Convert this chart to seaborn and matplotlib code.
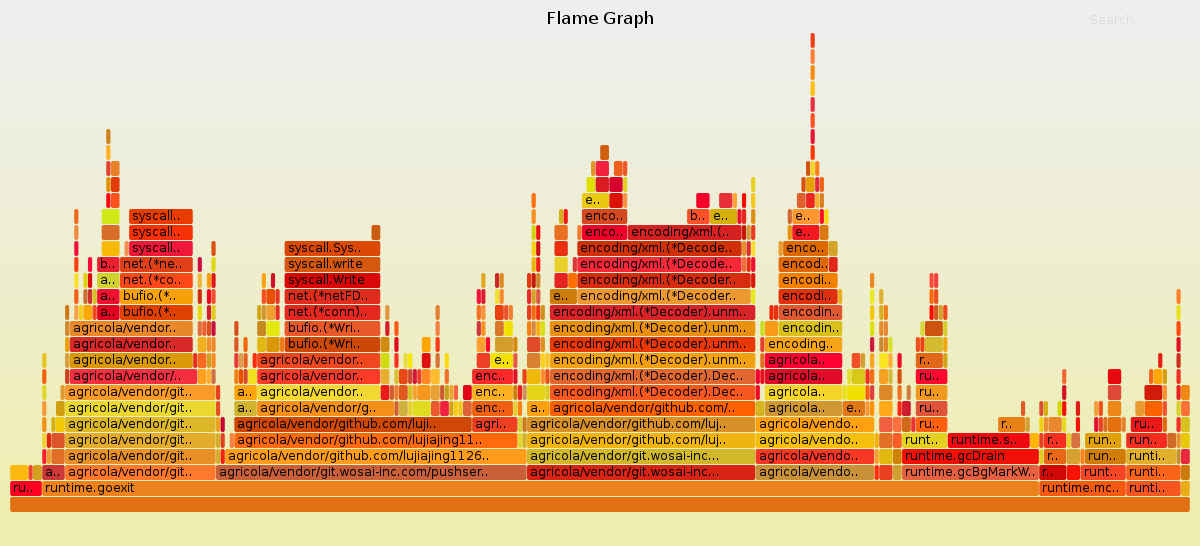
import numpy as np
import pandas as pd
import matplotlib
matplotlib.use("Agg")
import matplotlib.pyplot as plt
from matplotlib.patches import FancyBboxPatch
import seaborn as sns

AG = "agricola/vendor/git.."

r00_start = [10]
r00_end = [1190]
r00_color = ["#e07012"]
r00_label = {}

r01_start = [10, 42, 1040, 1126, 1181]
r01_end = [42, 1039, 1126, 1181, 1190]
r01_color = ["#ff0020", "#ec821c", "#f55a10", "#f75620", "#e8ac18"]
r01_label = {0: "ru..", 1: "runtime.goexit", 2: "runtime.mc..", 3: "runti.."}

r02_start = [10, 29, 33, 42, 65, 216, 527, 755, 875, 879, 892, 902, 1039, 1066, 1081, 1126, 1181]
r02_end = [28, 33, 42, 65, 216, 527, 755, 875, 879, 892, 902, 1039, 1066, 1080, 1126, 1181, 1190]
r02_color = ["#fbb80f", "#f0442c", "#d4a020", "#cc3838", "#ff782c", "#c9603a", "#d82414", "#c89038", "#ff2d10",
             "#e84020", "#cda030", "#e56040", "#d00808", "#f81208", "#f54525", "#fa6418", "#cc7a0c"]
r02_label = {3: "a..", 4: AG, 5: "agricola/vendor/git.wosai-inc.com/pushser..", 6: "agricola/vendor/git.wosai-inc...",
             7: "agricola/vendo..", 11: "runtime.gcBgMarkW..", 12: "r..", 14: "runt..", 15: "runti.."}

r03_start = [42, 47, 52, 65, 216, 221, 225, 527, 755, 875, 879, 893, 902, 1039, 1044, 1066, 1081, 1085, 1126, 1177, 1181]
r03_end = [46, 51, 65, 216, 220, 225, 527, 755, 875, 879, 893, 902, 1039, 1043, 1066, 1080, 1084, 1126, 1176, 1181, 1190]
r03_color = ["#f52030", "#f09a30", "#e07028", "#e89028", "#d4b030", "#f52010", "#ff9c1c", "#d0b82a", "#f83824", "#f5a030",
             "#e0b810", "#cf8008", "#f01008", "#dcd020", "#e66816", "#d8a030", "#fa8020", "#d07c08", "#e0b02c", "#c89030", "#e8283c"]
r03_label = {3: AG, 6: "agricola/vendor/github.com/lujiajing1126..", 7: "agricola/vendor/git.wosai-inc...",
             8: "agricola/vendo..", 12: "runtime.gcDrain", 14: "r..", 17: "run..", 18: "runti.."}

r04_start = [42, 47, 52, 65, 216, 221, 229, 234, 518, 522, 527, 755, 875, 879, 893, 902, 948, 1030, 1039, 1044, 1066,
             1071, 1085, 1126, 1168, 1177, 1181]
r04_end = [46, 51, 65, 216, 220, 225, 234, 517, 522, 527, 755, 875, 879, 893, 902, 947, 1030, 1039, 1043, 1066, 1070,
           1080, 1121, 1167, 1177, 1181, 1190]
r04_color = ["#f6d030", "#e02810", "#dc5428", "#e4ac2c", "#d0b02c", "#e04020", "#f58040", "#ff6a10", "#e0d830", "#d4b028",
             "#f0b410", "#f4c00c", "#f0b010", "#e07028", "#fa5c28", "#e4d020", "#ee0a10", "#fdb608", "#e84020", "#f53020",
             "#e8d020", "#d87040", "#e0a00c", "#f52c20", "#d06a28", "#e89030", "#e8c808"]
r04_label = {3: AG, 7: "agricola/vendor/github.com/lujiajing11..", 10: "agricola/vendor/github.com/luj..",
             11: "agricola/vendo..", 15: "runt..", 16: "runtime.s..", 19: "r..", 22: "run..", 23: "run.."}

r05_start = [42, 51, 55, 65, 216, 221, 234, 472, 518, 522, 527, 755, 879, 893, 902, 911, 915, 998, 1025, 1039, 1044,
             1049, 1062, 1076, 1094, 1098, 1103, 1107, 1122, 1131, 1163, 1177, 1181]
r05_end = [46, 55, 65, 216, 220, 225, 471, 517, 522, 527, 755, 875, 893, 902, 911, 915, 947, 1025, 1030, 1043, 1048,
           1062, 1066, 1080, 1098, 1103, 1107, 1121, 1126, 1162, 1167, 1181, 1190]
r05_color = ["#f59010", "#d8b010", "#f0c800", "#dcb828", "#f0a020", "#c80030", "#d04808", "#ee4020", "#d8d038", "#cc7a20",
             "#d89028", "#ffa010", "#f06040", "#ff7040", "#d06818", "#f03038", "#ff6010", "#e88018", "#d0a030", "#f0d010",
             "#e89030", "#ea8830", "#e8d820", "#f81408", "#e41030", "#f04028", "#d87020", "#e47010", "#e88030", "#ea1818",
             "#e06810", "#f03020", "#d8c020"]
r05_label = {3: AG, 6: "agricola/vendor/github.com/luji..", 7: "agri..", 10: "agricola/vendor/github.com/luj..",
             11: "agricola/vendo..", 16: "ru..", 17: "r..", 29: "ru.."}

r06_start = [42, 56, 65, 216, 234, 257, 394, 399, 408, 413, 431, 440, 449, 454, 458, 463, 472, 513, 518, 527, 550, 755,
             765, 843, 866, 870, 879, 897, 902, 915, 1021, 1039, 1044, 1058, 1062, 1076, 1094, 1099, 1108, 1135, 1145,
             1163, 1177, 1181]
r06_end = [46, 65, 216, 220, 257, 394, 399, 408, 412, 431, 440, 449, 453, 458, 463, 472, 513, 517, 522, 549, 755, 764,
           842, 865, 869, 875, 893, 901, 911, 947, 1025, 1043, 1048, 1062, 1066, 1080, 1098, 1103, 1121, 1144, 1162,
           1167, 1181, 1190]
r06_color = ["#f89838", "#d0a010", "#ead830", "#e85020", "#d0b430", "#f49018", "#d06030", "#d0b040", "#e8d030", "#e0dc20",
             "#ea5830", "#f02040", "#d8a018", "#fdd018", "#f0c820", "#e06038", "#f06010", "#e4d030", "#ff8010", "#fca010",
             "#ff6000", "#d4b420", "#cf9830", "#e07818", "#f89838", "#ff9000", "#ffa818", "#ff2810", "#d01c30", "#dd5438",
             "#e05828", "#dc5030", "#d4b010", "#d0d800", "#f81008", "#e41c18", "#f0a038", "#f05018", "#ee8818", "#ea9830",
             "#fa6400", "#f85030", "#d8d030", "#fa7038"]
r06_label = {2: AG, 4: "a..", 5: "agricola/vendor/g..", 16: "enc..", 19: "a..",
             20: "agricola/vendor/github.com/..", 22: "agricola..", 23: "e..", 29: "ru.."}

r07_start = [42, 60, 65, 216, 234, 257, 381, 390, 394, 399, 408, 413, 417, 431, 440, 445, 449, 454, 463, 472, 513, 518,
             522, 527, 545, 550, 755, 765, 843, 847, 866, 870, 879, 897, 907, 915, 1062, 1108, 1144, 1163, 1177, 1181]
r07_end = [46, 65, 216, 220, 257, 380, 389, 394, 399, 408, 412, 417, 431, 440, 444, 449, 453, 458, 472, 513, 517, 522,
           527, 545, 549, 755, 760, 842, 847, 865, 869, 874, 893, 902, 911, 947, 1066, 1121, 1162, 1167, 1181, 1190]
r07_color = ["#e0d828", "#e09a30", "#fa9a28", "#e8401c", "#ffa408", "#f2d830", "#e81c18", "#d46030", "#e88030", "#e05820",
             "#d4c020", "#f8a030", "#f69820", "#e8a038", "#d05830", "#c8a020", "#e8a830", "#fa6040", "#e00018", "#fbb020",
             "#d08010", "#f02020", "#cc9060", "#e4d418", "#d8d020", "#f85820", "#f00828", "#f4d428", "#e8e020", "#f2e000",
             "#f86010", "#e04040", "#dc8828", "#f07020", "#d0803c", "#f09820", "#d81020", "#e04838", "#d01c08", "#ff9030",
             "#e82020", "#f08818"]
r07_label = {2: AG, 4: "a..", 5: "agricola/vendor..", 19: "enc..", 25: "encoding/xml.(*Decoder).Dec..",
             27: "agricola..", 35: "ru.."}

r08_start = [42, 65, 70, 197, 206, 211, 234, 239, 244, 248, 257, 380, 394, 399, 408, 413, 417, 422, 431, 445, 472, 513,
             522, 527, 541, 545, 550, 756, 760, 765, 847, 852, 866, 870, 879, 888, 897, 915, 1062, 1108, 1149, 1153, 1163, 1177]
r08_end = [46, 69, 197, 206, 211, 216, 238, 243, 248, 257, 380, 390, 399, 408, 412, 417, 421, 431, 440, 449, 513, 517,
           527, 540, 545, 549, 755, 760, 764, 842, 852, 865, 870, 874, 888, 893, 902, 947, 1066, 1122, 1153, 1162, 1167, 1181]
r08_color = ["#f86010", "#d04020", "#f43040", "#ffa020", "#ffb030", "#cc7040", "#f08010", "#e85000", "#d84820", "#f2e020",
             "#fc3c28", "#e8b030", "#d8c030", "#e84818", "#d04830", "#d01838", "#f03c28", "#ff8820", "#ffbc30", "#f07028",
             "#fa2828", "#e01028", "#e84010", "#f0b808", "#ff8c30", "#ea5018", "#e06830", "#f00030", "#e81018", "#e00c28",
             "#e0e030", "#d8c818", "#f03020", "#f07010", "#f5a020", "#d4b838", "#d85010", "#ff0830", "#f06830", "#e80810",
             "#f86818", "#ffa808", "#d4a010", "#ee3020"]
r08_label = {2: "agricola/vendor/..", 10: "agricola/vendor..", 20: "enc..", 26: "encoding/xml.(*Decoder).Dec..",
             29: "agricola..", 37: "ru.."}

r09_start = [42, 65, 70, 193, 197, 206, 211, 234, 239, 244, 252, 257, 380, 394, 403, 408, 422, 435, 445, 477, 490, 513,
             527, 541, 545, 550, 760, 765, 852, 860, 870, 879, 888, 897, 916, 943, 1158, 1177]
r09_end = [46, 69, 193, 197, 206, 211, 216, 238, 243, 248, 257, 380, 390, 399, 407, 412, 431, 440, 449, 490, 513, 517,
           540, 545, 549, 755, 764, 842, 860, 865, 874, 888, 893, 902, 943, 947, 1163, 1181]
r09_color = ["#e8c420", "#d8a040", "#d89808", "#e83020", "#f86820", "#d0a020", "#f88820", "#e83838", "#d8a050", "#e86020",
             "#ff2c0c", "#ee4820", "#d0dc10", "#fa3020", "#e8dc40", "#f8e800", "#e01010", "#d87038", "#ffd810", "#ee4028",
             "#f4e000", "#e85848", "#d88030", "#fad020", "#f4c828", "#f0a010", "#e07020", "#ff0030", "#f45028", "#d0a030",
             "#fca020", "#f8e420", "#fcb030", "#f40828", "#e06818", "#d4a418", "#e81c10", "#cc3020"]
r09_label = {2: "agricola/vendor..", 11: "agricola/vendor..", 20: "e..", 25: "encoding/xml.(*Decoder).unm..",
             27: "agricola..", 34: "r.."}

r10_start = [65, 70, 197, 206, 211, 234, 243, 257, 266, 280, 285, 380, 394, 422, 435, 477, 486, 495, 513, 527, 541, 550,
             760, 765, 870, 879, 884, 888, 916, 921, 925, 943, 1177]
r10_end = [69, 193, 206, 211, 216, 238, 248, 266, 279, 284, 380, 390, 399, 431, 440, 485, 490, 513, 517, 540, 545, 755,
           764, 842, 874, 883, 888, 893, 920, 925, 943, 947, 1181]
r10_color = ["#e8a000", "#d82828", "#f0b020", "#f09030", "#f08828", "#d85820", "#f06808", "#e0b810", "#d89808", "#f07818",
             "#cc4808", "#cf8c10", "#e00818", "#ffa400", "#fa3c18", "#ffa030", "#ff0828", "#d49c2c", "#d88808", "#e04c28",
             "#e09020", "#e83808", "#e83c30", "#f4a414", "#d01838", "#c88c38", "#e08828", "#d8e028", "#f05020", "#f04010",
             "#d4bc30", "#f0a410", "#e01020"]
r10_label = {1: "agricola/vendor..", 10: "bufio.(*Wri..", 21: "encoding/xml.(*Decoder).unm..", 23: "encoding.."}

r11_start = [65, 70, 197, 202, 207, 211, 234, 257, 266, 285, 385, 394, 435, 477, 481, 495, 504, 527, 532, 536, 541, 550,
             760, 765, 778, 870, 879, 884, 920, 925, 943, 1177]
r11_end = [69, 193, 202, 206, 211, 216, 239, 266, 279, 380, 390, 399, 440, 481, 485, 504, 513, 531, 536, 540, 545, 755,
           764, 778, 842, 874, 884, 888, 925, 943, 947, 1181]
r11_color = ["#d08830", "#e88828", "#e07040", "#f06030", "#d85020", "#c81040", "#d85018", "#c88820", "#e4e810", "#e85828",
             "#d81c28", "#fa5a18", "#f08040", "#d03840", "#f89020", "#d87828", "#f4e000", "#f88010", "#d88840", "#f8b010",
             "#d4e010", "#e89010", "#c8e020", "#f89c18", "#d8c018", "#e0e010", "#e48c28", "#e48838", "#d8d838", "#cc5410",
             "#d8cc30", "#ff4a10"]
r11_label = {1: "agricola/vendor..", 9: "bufio.(*Wri..", 21: "encoding/xml.(*Decoder).unm..", 24: "encodin.."}

r12_start = [65, 74, 79, 83, 93, 97, 119, 197, 207, 211, 257, 262, 266, 276, 285, 385, 435, 477, 481, 495, 504, 508, 527,
             532, 536, 541, 550, 769, 774, 778, 870, 879, 884, 929, 934, 938, 943, 1177]
r12_end = [69, 78, 83, 92, 97, 119, 193, 202, 211, 216, 261, 266, 275, 280, 380, 390, 440, 481, 485, 504, 508, 513, 531,
           536, 540, 545, 755, 773, 778, 842, 874, 884, 888, 934, 938, 943, 947, 1181]
r12_color = ["#d07818", "#f8a048", "#f0d020", "#f8a808", "#f04820", "#e00020", "#e04000", "#e8d810", "#d02030", "#e0c820",
             "#d0a818", "#d09830", "#f0a030", "#e83020", "#e42820", "#e09840", "#e08030", "#f07020", "#f89038", "#e84010",
             "#f05028", "#f08030", "#e83c24", "#f86a10", "#f03010", "#d09020", "#d82428", "#f02808", "#e83010", "#e05830",
             "#f4c808", "#d4b020", "#f08018", "#ff0800", "#d05a20", "#d0a030", "#f04818", "#e8e020"]
r12_label = {5: "a..", 6: "bufio.(*..", 14: "net.(*conn)..", 26: "encoding/xml.(*Decoder).unm..", 29: "encodin.."}

r13_start = [74, 83, 88, 93, 97, 119, 197, 207, 211, 262, 266, 276, 285, 477, 482, 495, 500, 527, 532, 536, 550, 577, 751,
             778, 838, 870, 879, 929, 934, 1177]
r13_end = [79, 87, 92, 97, 119, 193, 202, 211, 216, 266, 275, 280, 380, 481, 485, 500, 504, 531, 536, 540, 577, 751, 755,
           837, 842, 874, 884, 934, 938, 1181]
r13_color = ["#f86018", "#c87030", "#d03030", "#d4c020", "#f01030", "#f8a008", "#d03010", "#f00820", "#f05030", "#f85020",
             "#e85008", "#e83820", "#e02c1c", "#f01838", "#d82030", "#f0e030", "#f88828", "#e82c30", "#d4a028", "#e05c40",
             "#cc7c08", "#ec9830", "#e8e820", "#e03010", "#e8b020", "#ece820", "#dcb030", "#fa6a10", "#f05020", "#ff8028"]
r13_label = {4: "a..", 5: "bufio.(*..", 12: "net.(*netFD..", 20: "e..", 21: "encoding/xml.(*Decoder..", 23: "encodi.."}

r14_start = [74, 83, 88, 97, 119, 197, 207, 211, 262, 271, 285, 481, 495, 500, 527, 532, 536, 554, 568, 577, 751, 778, 870,
             929, 934]
r14_end = [79, 87, 92, 119, 193, 202, 211, 216, 266, 275, 380, 485, 499, 504, 531, 536, 540, 568, 577, 751, 755, 837, 874,
           934, 938]
r14_color = ["#f8e028", "#e0d010", "#e00808", "#d0d030", "#fc4818", "#f0b838", "#f8a010", "#e01818", "#f8a410", "#d01028",
             "#d80808", "#e0a820", "#c82828", "#e08820", "#e03810", "#c81808", "#d08830", "#e42420", "#ff6e00", "#d82c10",
             "#d81808", "#f48000", "#f08820", "#f85038", "#fa4040"]
r14_label = {3: "a..", 4: "net.(*co..", 10: "syscall.Write", 19: "encoding/xml.(*Decoder..", 21: "encodi.."}

r15_start = [74, 88, 97, 119, 197, 211, 285, 531, 536, 554, 572, 577, 742, 747, 751, 778, 829]
r15_end = [79, 92, 119, 193, 202, 216, 380, 535, 540, 568, 577, 742, 747, 751, 755, 829, 837]
r15_color = ["#ff4010", "#ff0838", "#e82030", "#e04018", "#d01040", "#e0d810", "#d45810", "#e8b808", "#f82010", "#e8d028",
             "#dd3838", "#f52838", "#f07038", "#e83018", "#f01030", "#e06808", "#e02818"]
r15_label = {2: "b..", 3: "net.(*ne..", 6: "syscall.write", 11: "encoding/xml.(*Decode..", 15: "encod.."}

r16_start = [74, 101, 124, 129, 211, 285, 531, 536, 554, 577, 742, 747, 751, 778, 783, 829]
r16_end = [79, 120, 129, 193, 216, 380, 535, 540, 568, 742, 746, 751, 755, 783, 828, 837]
r16_color = ["#f01038", "#f8b808", "#f09050", "#f01838", "#d85010", "#dc4808", "#f8d010", "#cc1010", "#e83010", "#d03008",
             "#e89030", "#d83030", "#f8dc30", "#e89c30", "#dc6800", "#d4a428"]
r16_label = {3: "syscall..", 5: "syscall.Sys..", 9: "encoding/xml.(*Decode..", 14: "enco.."}

r17_start = [74, 101, 129, 371, 531, 536, 554, 577, 582, 627, 742, 747, 751, 787, 792, 820]
r17_end = [79, 120, 193, 380, 535, 540, 568, 582, 627, 742, 747, 751, 755, 792, 819, 829]
r17_color = ["#f08840", "#d86e28", "#f83008", "#cc5a10", "#d4d010", "#f01010", "#e87020", "#f87830", "#f00028", "#d42020",
             "#c81808", "#d09c40", "#e83c20", "#e89010", "#f41820", "#dc7810"]
r17_label = {2: "syscall..", 8: "enco..", 9: "encoding/xml.(..", 14: "e.."}

r18_start = [74, 101, 129, 531, 559, 564, 582, 687, 710, 737, 742, 751, 787, 792, 820, 824]
r18_end = [79, 120, 193, 535, 563, 568, 627, 709, 737, 742, 746, 755, 792, 819, 824, 829]
r18_color = ["#f06818", "#d0e818", "#e83c00", "#f89020", "#d4b018", "#f01810", "#d44820", "#fc5028", "#d4b008", "#e81828",
             "#e82818", "#e09010", "#d06830", "#ff9830", "#ff1020", "#f8d408"]
r18_label = {2: "syscall..", 6: "enco..", 7: "b..", 8: "e..", 13: "e.."}

r19_start = [106, 111, 531, 582, 609, 623, 696, 719, 733, 742, 751, 797, 806, 815, 820]
r19_end = [110, 120, 536, 609, 623, 627, 710, 732, 737, 747, 755, 805, 815, 819, 824]
r19_color = ["#f80810", "#ff5420", "#f87010", "#e8c810", "#dc1408", "#f89040", "#f40028", "#e83038", "#ffa030", "#f01000",
             "#f8c820", "#e06030", "#ec2820", "#f8b030", "#d88020"]
r19_label = {3: "e.."}

r20_start = [106, 111, 586, 596, 610, 623, 751, 801, 806, 815, 820]
r20_end = [110, 120, 595, 609, 623, 627, 755, 805, 815, 819, 824]
r20_color = ["#e09000", "#e03c08", "#e0e000", "#d81c20", "#d8002c", "#e0d020", "#e8d020", "#d85010", "#e8a008", "#e02840",
             "#f06010"]
r20_label = {}

r21_start = [106, 111, 591, 596, 614, 623, 806, 810, 815]
r21_end = [110, 120, 595, 609, 622, 627, 810, 815, 819]
r21_color = ["#e04030", "#e88028", "#e09820", "#f42040", "#f06020", "#f05828", "#d85010", "#f0d820", "#f88020"]
r21_label = {}

r22_start = [106, 600, 810]
r22_end = [110, 609, 815]
r22_color = ["#ffb020", "#d06010", "#ff3808"]
r22_label = {}

r23_start = [106, 810]
r23_end = [110, 815]
r23_color = ["#d08018", "#e81838"]
r23_label = {}

r24_start = [810]
r24_end = [815]
r24_color = ["#ff5020"]
r24_label = {}

r25_start = [810]
r25_end = [815]
r25_color = ["#e83040"]
r25_label = {}

r26_start = [810]
r26_end = [815]
r26_color = ["#ffc010"]
r26_label = {}

r27_start = [810]
r27_end = [815]
r27_color = ["#f28c10"]
r27_label = {}

r28_start = [810]
r28_end = [815]
r28_color = ["#ff8038"]
r28_label = {}

r29_start = [810]
r29_end = [815]
r29_color = ["#f04018"]
r29_label = {}

TITLE = "Flame Graph"
SEARCH = "Search"

# The frames sit on a grid of whole samples: 258 samples across the root frame.
TOTAL_SAMPLES = 258
PX_PER_SAMPLE = (1190 - 10) / TOTAL_SAMPLES


def to_samples(value):
    return int(round((value - 10) / PX_PER_SAMPLE))


spec = globals()
rows = []
for lv in range(30):
    starts = spec[f"r{lv:02d}_start"]
    ends = spec[f"r{lv:02d}_end"]
    cols = spec[f"r{lv:02d}_color"]
    labs = spec[f"r{lv:02d}_label"]
    assert len(starts) == len(ends) == len(cols), lv
    for i, (s, e, c) in enumerate(zip(starts, ends, cols)):
        a = to_samples(s)
        b = max(to_samples(e), a + 1)
        rows.append(dict(uid=f"{lv}-{i}", level=lv, start=a, width=b - a, color=c, label=labs.get(i, "")))
df = pd.DataFrame(rows)

sns.set_theme(style="white", rc={"font.family": ["DejaVu Sans"], "text.hinting": "native", "text.hinting_factor": 1})
fig = plt.figure(figsize=(12, 5.46), dpi=100)
ax = fig.add_axes([0, 0, 1, 1])

sns.barplot(data=df, x="width", y="level", hue="uid", hue_order=list(df.uid),
            palette=dict(zip(df.uid, df.color)), orient="y", native_scale=True,
            dodge=False, legend=False, errorbar=None, saturation=1, width=15 / 16, ax=ax)

XLIM = (-10 / PX_PER_SAMPLE, 1190 / PX_PER_SAMPLE)
YLIM = ((504.5 - 546) / 16, 504.5 / 16)
INSET = 0.2 / PX_PER_SAMPLE

bars = list(ax.patches)
assert len(bars) == len(df)
for bar, (_, f) in zip(bars, df.iterrows()):
    y, h = bar.get_y(), bar.get_height()
    bar.remove()
    ax.add_patch(FancyBboxPatch((f.start + INSET, y), f.width - 2 * INSET, h,
                                boxstyle=f"round,pad=0,rounding_size={2 / PX_PER_SAMPLE}",
                                mutation_aspect=PX_PER_SAMPLE / 16,
                                facecolor=f.color, edgecolor="none", zorder=2))
    if f.label:
        ax.text(f.start + 3.3 / PX_PER_SAMPLE, f.level - 3.5 / 16, f.label, fontsize=8.64, color="black",
                va="baseline", ha="left", zorder=3)

top = np.array([238, 238, 238]) / 255
bottom = np.array([238, 238, 176]) / 255
frac = np.clip((np.linspace(0, 1, 546) - 0.05) / 0.9, 0, 1)[:, None, None]
ax.imshow(top * (1 - frac) + bottom * frac, extent=(*XLIM, *YLIM), origin="upper", aspect="auto", zorder=0)

ax.text(590 / PX_PER_SAMPLE, YLIM[1] - 24 / 16, TITLE, fontsize=12.24, color="black", ha="center", va="baseline")
ax.text(1080 / PX_PER_SAMPLE, YLIM[1] - 24 / 16, SEARCH, fontsize=8.64, color="#dcdcdc", ha="left", va="baseline")

ax.set_xlim(*XLIM)
ax.set_ylim(*YLIM)
ax.axis("off")
fig.savefig("out.png", dpi=100)
